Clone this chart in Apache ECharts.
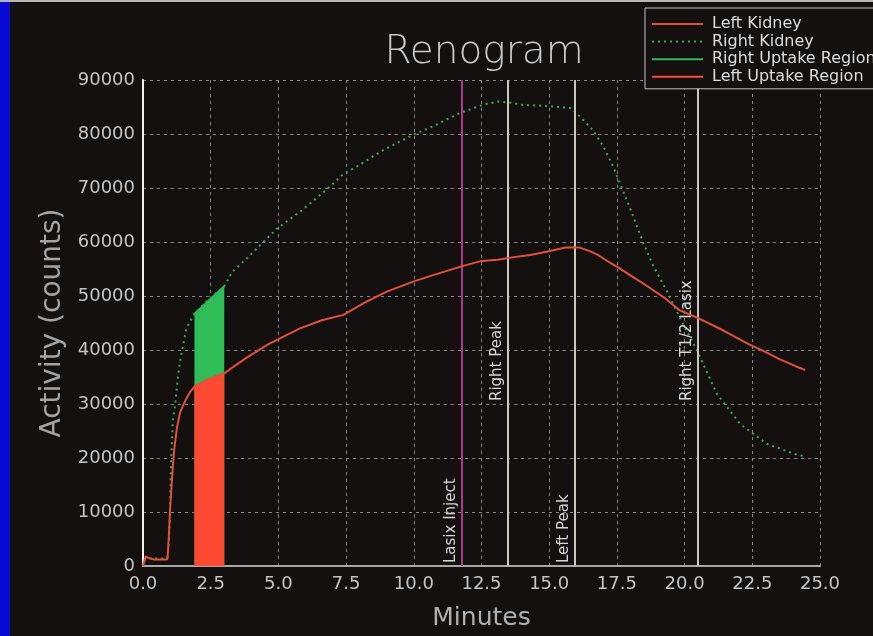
<!DOCTYPE html>
<html>
<head>
<meta charset="utf-8">
<title>Renogram</title>
<script src="https://cdn.jsdelivr.net/npm/echarts@6/dist/echarts.min.js"></script>
<style>
  html, body { margin: 0; padding: 0; background: #151010; }
  #chart { width: 873px; height: 636px; }
</style>
</head>
<body>
<div id="chart"></div>
<script>
// Time samples (minutes) and counts for each kidney curve
const leftKidneyTime = [0.0, 0.1, 0.2, 0.4, 0.6, 0.9, 0.95, 1.0, 1.07, 1.15, 1.25, 1.37, 1.55, 1.75, 1.9, 2.4, 3.0, 3.8, 4.6, 5.8, 6.6, 7.4, 8.2, 9.0, 10.0, 10.8, 11.7, 12.5, 13.1, 13.7, 14.3, 14.9, 15.6, 16.1, 16.5, 16.8, 17.2, 17.6, 18.1, 18.6, 19.3, 19.8, 20.5, 21.4, 22.4, 23.0, 23.5, 24.1, 24.45];
const leftKidneyCounts = [0, 1800, 1500, 1200, 1200, 1200, 5000, 10500, 16000, 21500, 25500, 28500, 30500, 32300, 33200, 34600, 35700, 38500, 41000, 44000, 45500, 46500, 48800, 50800, 52700, 54000, 55400, 56500, 56700, 57200, 57600, 58200, 59000, 59000, 58300, 57600, 56300, 55100, 53500, 51900, 49500, 47400, 45900, 43700, 41000, 39600, 38300, 37000, 36300];

const rightKidneyTime = [0.0, 0.1, 0.4, 0.8, 0.9, 0.95, 1.0, 1.04, 1.1, 1.18, 1.29, 1.37, 1.6, 1.9, 2.4, 3.0, 3.3, 3.84, 4.95, 5.8, 6.8, 7.4, 7.9, 8.9, 10.0, 10.7, 11.7, 12.55, 13.1, 13.6, 14.0, 14.9, 15.8, 16.1, 16.6, 17.0, 17.36, 17.7, 18.1, 18.46, 18.83, 19.35, 19.83, 20.46, 21.2, 22.05, 23.04, 24.15, 24.45];
const rightKidneyCounts = [0, 1500, 1400, 1400, 1500, 4000, 10500, 19700, 27000, 29500, 35000, 38000, 44000, 46700, 49300, 51800, 54500, 57000, 62500, 65600, 69800, 72600, 74000, 77100, 79900, 81400, 83900, 85400, 86000, 85800, 85400, 85200, 84800, 83400, 80800, 77700, 74000, 69800, 64800, 60000, 55700, 50900, 45900, 39900, 31800, 26300, 22600, 20600, 20300];

// Uptake window (minutes) and curve values at its edges
const uptakeTime = [1.9, 3.0];
const rightUptakeCounts = [46700, 51800];
const leftUptakeCounts = [33200, 35700];

// Event markers
const markerNames = ['Lasix Inject', 'Right Peak', 'Left Peak', 'Right T1/2 Lasix'];
const markerTimes = [11.76, 13.46, 15.94, 20.49];
const markerLabelFrom = [0, 30000, 0, 30000];

// Axis ticks
const xTicks = [0, 2.5, 5, 7.5, 10, 12.5, 15, 17.5, 20, 22.5, 25];
const yTicks = [0, 10000, 20000, 30000, 40000, 50000, 60000, 70000, 80000, 90000];

const zip = (xs, ys) => xs.map((x, i) => [x, ys[i]]);

const FONT = 'DejaVu Sans';
const BG = '#151010';
const markerColors = ['#b4378f', '#c8c8c0', '#c8c8c0', '#c8c8c0'];

const markLineData = [];
markerNames.forEach((name, i) => {
  const t = markerTimes[i];
  const from = markerLabelFrom[i];
  const lineStyle = { color: markerColors[i], width: 2, type: 'solid' };
  if (from > 0) {
    markLineData.push([
      { coord: [t, yTicks[0]], lineStyle, label: { show: false } },
      { coord: [t, from] }
    ]);
  }
  markLineData.push([
    {
      coord: [t, from], lineStyle,
      label: {
        show: true, position: 'insideStartTop', formatter: name,
        color: '#d6d6d6', fontFamily: FONT, fontSize: 15, distance: 3
      }
    },
    { coord: [t, yTicks[yTicks.length - 1]] }
  ]);
});

const gridLine = { show: true, lineStyle: { color: '#85857f', width: 1, type: [3, 4] } };

const chart = echarts.init(document.getElementById('chart'), null, { renderer: 'canvas' });

chart.setOption({
  animation: false,
  backgroundColor: BG,
  graphic: [
    { type: 'rect', left: 0, top: 0, shape: { width: 10, height: 636 }, style: { fill: '#0a0ad6' }, z: 100 },
    { type: 'rect', left: 0, top: 0, shape: { width: 873, height: 2 }, style: { fill: '#b8b8b8' }, z: 100 }
  ],
  title: {
    text: 'Renogram',
    left: 479, textAlign: 'center', top: 28,
    textStyle: { color: '#c8c8c8', fontFamily: FONT, fontSize: 39, fontWeight: 200 }
  },
  legend: {
    orient: 'vertical',
    left: 645, top: 8,
    z: 20,
    padding: [8, 40, 4, 6],
    itemWidth: 51, itemHeight: 14, itemGap: 1.6,
    backgroundColor: BG,
    borderColor: '#c0c0c0', borderWidth: 1,
    itemStyle: { color: 'transparent', borderColor: 'transparent', borderWidth: 0 },
    textStyle: { color: '#dcdcdc', fontFamily: FONT, fontSize: 16, padding: [0, 0, 0, 4] },
    data: ['Left Kidney', 'Right Kidney', 'Right Uptake Region', 'Left Uptake Region']
  },
  grid: { left: 143, right: 53, top: 80, bottom: 66 },
  xAxis: {
    type: 'value',
    min: xTicks[0], max: xTicks[xTicks.length - 1], interval: 2.5,
    name: 'Minutes', nameLocation: 'middle', nameGap: 40,
    nameTextStyle: { color: '#b0b0b0', fontFamily: FONT, fontSize: 25 },
    axisLine: { show: true, lineStyle: { color: '#a8a8a8', width: 2 } },
    axisTick: { show: false },
    axisLabel: {
      color: '#c4c4c4', fontFamily: FONT, fontSize: 18, margin: 9,
      formatter: v => v.toFixed(1)
    },
    splitLine: gridLine
  },
  yAxis: {
    type: 'value',
    min: yTicks[0], max: yTicks[yTicks.length - 1], interval: 10000,
    name: 'Activity (counts)', nameLocation: 'middle', nameGap: 74,
    nameTextStyle: { color: '#a4a4a4', fontFamily: FONT, fontSize: 28 },
    axisLine: { show: true, lineStyle: { color: '#f0f0f0', width: 2 } },
    axisTick: { show: false },
    axisLabel: { color: '#c4c4c4', fontFamily: FONT, fontSize: 18, margin: 8, formatter: v => String(v) },
    splitLine: gridLine
  },
  series: [
    {
      name: 'Right Uptake Region',
      type: 'line', symbol: 'none',
      data: zip(uptakeTime, rightUptakeCounts),
      lineStyle: { color: '#2fb85a', width: 2 },
      itemStyle: { color: '#2fb85a' },
      areaStyle: { color: '#2fbd58', opacity: 1 },
      z: 2
    },
    {
      name: 'Left Uptake Region',
      type: 'line', symbol: 'none',
      data: zip(uptakeTime, leftUptakeCounts),
      lineStyle: { color: '#ff4a32', width: 2 },
      itemStyle: { color: '#ff4a32' },
      areaStyle: { color: '#ff4a32', opacity: 1 },
      z: 3
    },
    {
      name: 'Right Kidney',
      type: 'line', symbol: 'none',
      data: zip(rightKidneyTime, rightKidneyCounts),
      lineStyle: { color: '#3ea462', width: 2, type: [2, 4] },
      itemStyle: { color: '#3ea462' },
      z: 4
    },
    {
      name: 'Left Kidney',
      type: 'line', symbol: 'none',
      data: zip(leftKidneyTime, leftKidneyCounts),
      lineStyle: { color: '#e2503a', width: 2 },
      itemStyle: { color: '#e2503a' },
      z: 5,
      markLine: {
        silent: true,
        symbol: ['none', 'none'],
        data: markLineData
      }
    }
  ]
});
</script>
</body>
</html>
